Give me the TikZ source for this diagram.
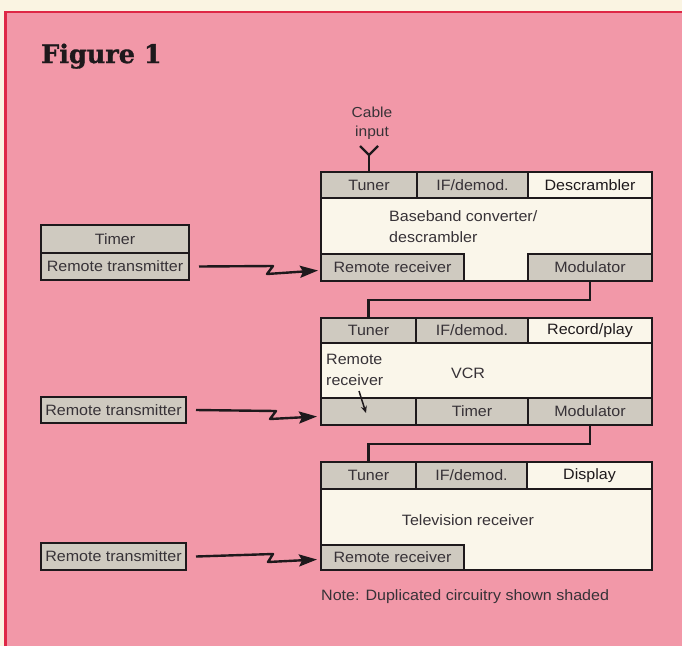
\documentclass[tikz,border=0pt]{standalone}
\usepackage{fontspec}
\setmainfont{Liberation Sans}[FakeStretch=1.07]
\newfontfamily\titlefont{DejaVu Serif}[FakeBold=1.2]
\usetikzlibrary{arrows.meta}
\definecolor{bgpink}{RGB}{242,152,168}
\definecolor{framered}{RGB}{222,40,70}
\definecolor{cream}{RGB}{250,244,226}
\definecolor{shade}{RGB}{207,202,192}
\definecolor{paper}{RGB}{250,246,234}
\definecolor{ink}{RGB}{30,25,28}
\definecolor{txt}{RGB}{55,50,55}
\tikzset{
  cell/.style={draw=ink, line width=2.2pt, inner sep=0pt, outer sep=0pt, anchor=north west,
    text=txt, font=\fontsize{15}{18}\selectfont},
  shaded/.style={cell, fill=shade},
  plain/.style={cell, fill=paper},
  label/.style={inner sep=0pt, text=txt, font=\fontsize{15}{21}\selectfont},
  wire/.style={draw=ink, line width=2.4pt},
  remote/.style={draw=ink, line width=2.4pt, line join=round, -{Stealth[length=18pt,width=12pt,inset=3pt]}},
}
\begin{document}
\begin{tikzpicture}[x=1pt,y=-1pt]
\useasboundingbox (0,0) rectangle (682,646);
% background and frame
\fill[cream] (0,0) rectangle (682,646);
\fill[bgpink] (5,12) rectangle (682,646);
\draw[framered, line width=2.2pt] (5.5,646) -- (5.5,12) -- (682,12);

% title
\node[anchor=base west, inner sep=0pt, text=ink, font=\titlefont\bfseries\fontsize{25.5}{30}\selectfont] (title) at (41,63) {Figure 1};

% ---------- Box 1: baseband converter ----------
\node[plain, minimum width=331pt, minimum height=109pt] (bb) at (321,172) {};
\node[shaded, minimum width=96pt, minimum height=26pt] (bbtun) at (321,172) {Tuner};
\node[shaded, minimum width=111pt, minimum height=26pt] (bbif) at (417,172) {IF/demod.};
\node[plain, minimum width=124pt, minimum height=26pt, text=ink] (bbdes) at (528,172) {Descrambler};
\node[shaded, minimum width=143pt, minimum height=27pt] (bbrr) at (321,254) {Remote receiver};
\node[shaded, minimum width=124pt, minimum height=27pt] (bbmod) at (528,254) {Modulator};
\node[label, align=left, anchor=west] (bbtext) at (389,226.5) {Baseband converter/\\descrambler};

% cable input
\draw[wire] (bbtun.north) -- ++(0,-17) coordinate (ant);
\draw[wire] (ant) -- ++(-9,-9);
\draw[wire] (ant) -- ++(9,-9);
\node[inner sep=0pt, align=center, text=txt, font=\fontsize{14.5}{19}\selectfont] (cable) at (372,123) {Cable\\input};

% ---------- Box 2: VCR ----------
\node[plain, minimum width=331pt, minimum height=107pt] (vcr) at (321,318) {};
\node[shaded, minimum width=95pt, minimum height=25pt] (vcrtun) at (321,318) {Tuner};
\node[shaded, minimum width=112pt, minimum height=25pt] (vcrif) at (416,318) {IF/demod.};
\node[plain, minimum width=124pt, minimum height=25pt, text=ink] (vcrrec) at (528,318) {Record/play};
\node[shaded, minimum width=95pt, minimum height=27pt] (vcrrr) at (321,398) {};
\node[shaded, minimum width=112pt, minimum height=27pt] (vcrtim) at (416,398) {Timer};
\node[shaded, minimum width=124pt, minimum height=27pt] (vcrmod) at (528,398) {Modulator};
\node[label, align=left, anchor=west] (vcrrrtext) at (326,370) {Remote\\receiver};
\node[label] (vcrtext) at (468,373) {VCR};
\coordinate (rrA) at (359,391);
\coordinate (rrB) at (366,413);
\draw[draw=ink, line width=1.5pt, -{Stealth[length=7pt,width=6pt]}] (rrA) -- (rrB);

% ---------- Box 3: television ----------
\node[plain, minimum width=331pt, minimum height=108pt] (tv) at (321,462) {};
\node[shaded, minimum width=95pt, minimum height=27pt] (tvtun) at (321,462) {Tuner};
\node[shaded, minimum width=111pt, minimum height=27pt] (tvif) at (416,462) {IF/demod.};
\node[plain, minimum width=125pt, minimum height=27pt, text=ink] (tvdis) at (527,462) {Display};
\node[shaded, minimum width=143pt, minimum height=25pt] (tvrr) at (321,545) {Remote receiver};
\node[label] (tvtext) at (468,520) {Television receiver};

% connections between units
\draw[wire] (bbmod.south) -- ++(0,19) -| (vcrtun.north);
\draw[wire] (vcrmod.south) -- ++(0,19) -| (tvtun.north);

% ---------- remote transmitters ----------
\node[shaded, minimum width=148pt, minimum height=28pt] (tim1) at (41,225) {Timer};
\node[shaded, minimum width=148pt, minimum height=27pt] (tx1) at (41,253) {Remote transmitter};
\node[shaded, minimum width=145pt, minimum height=26pt] (tx2) at (41,397) {Remote transmitter};
\node[shaded, minimum width=145pt, minimum height=27pt] (tx3) at (41,543) {Remote transmitter};

\draw[remote] ([xshift=10pt]tx1.east) -- (273,266) -- (267,274) -- ([xshift=-3pt,yshift=-3pt]bbrr.west);
\draw[remote] ([xshift=10pt]tx2.east) -- (276,411) -- (270,419) -- ([xshift=-4pt,yshift=-5pt]vcrrr.west);
\draw[remote] ([xshift=10pt]tx3.east) -- (273,554) -- (268,562) -- ([xshift=-4pt,yshift=-2pt]tvrr.west);

% note
\node[label, anchor=west] (note) at (321,597) {Note: Duplicated circuitry shown shaded};
\end{tikzpicture}
\end{document}
